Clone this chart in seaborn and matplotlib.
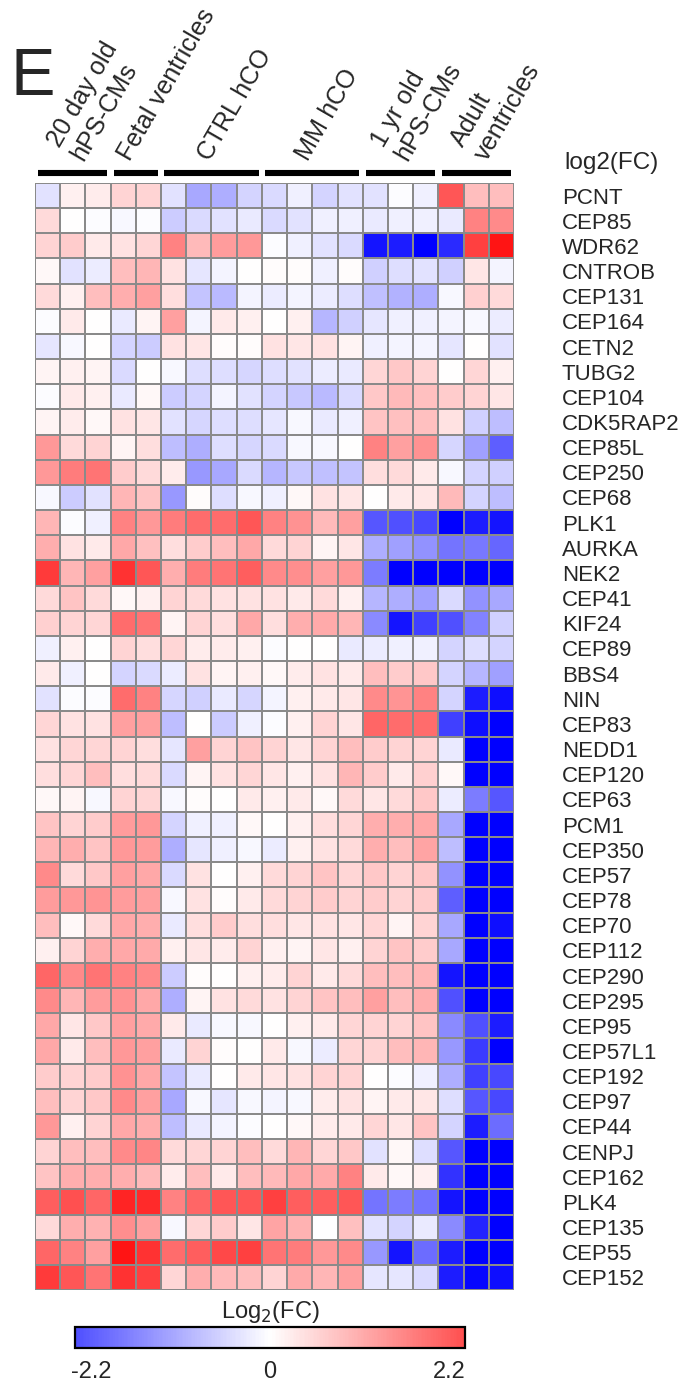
import numpy as np
import pandas as pd
import matplotlib
matplotlib.use("Agg")
import matplotlib.pyplot as plt
from matplotlib.colors import ListedColormap
import seaborn as sns

genes = ["PCNT", "CEP85", "WDR62", "CNTROB", "CEP131", "CEP164", "CETN2", "TUBG2",
         "CEP104", "CDK5RAP2", "CEP85L", "CEP250", "CEP68", "PLK1", "AURKA", "NEK2",
         "CEP41", "KIF24", "CEP89", "BBS4", "NIN", "CEP83", "NEDD1", "CEP120", "CEP63",
         "PCM1", "CEP350", "CEP57", "CEP78", "CEP70", "CEP112", "CEP290", "CEP295",
         "CEP95", "CEP57L1", "CEP192", "CEP97", "CEP44", "CENPJ", "CEP162", "PLK4",
         "CEP135", "CEP55", "CEP152"]

group_labels = ["20 day old\nhPS-CMs", "Fetal ventricles", "CTRL hCO", "MM hCO",
                "1 yr old\nhPS-CMs", "Adult\nventricles"]

# log2(FC) per group, one row per gene
day20 = [[-0.4, 0.2, 0.25], [0.5, 0.0, -0.05], [0.6, 0.7, 0.3], [0.1, -0.4, -0.25], [0.5, 0.2, 0.9],
         [-0.05, 0.3, 0.0], [-0.35, -0.1, 0.02], [0.15, 0.2, 0.15], [-0.05, 0.3, 0.2], [0.15, 0.25, 0.1],
         [1.4, 0.5, 0.6], [1.4, 1.8, 1.9], [-0.1, -0.7, -0.4], [1.0, -0.05, -0.2], [1.1, 0.4, 0.3],
         [2.7, 1.0, 1.3], [0.5, 0.8, 0.5], [0.65, 0.6, 0.55], [-0.2, 0.2, 0.02], [0.3, -0.2, 0.02],
         [-0.4, -0.05, -0.05], [0.55, 0.4, 0.4], [0.4, 0.55, 0.55], [0.45, 0.55, 0.9], [0.1, 0.15, -0.1],
         [0.8, 0.6, 0.7], [1.0, 1.1, 0.8], [1.6, 0.5, 0.75], [1.35, 1.4, 1.45], [0.9, 0.1, 0.5],
         [0.2, 0.6, 1.1], [2.1, 1.6, 1.9], [1.6, 1.0, 1.35], [1.2, 0.35, 0.75], [1.2, 0.3, 0.9],
         [0.7, 0.6, 0.7], [0.9, 0.6, 0.75], [1.4, 0.2, 0.6], [0.6, 0.9, 0.9], [0.8, 1.1, 1.1],
         [2.2, 2.4, 2.1], [0.5, 1.1, 1.05], [2.1, 1.7, 1.3], [2.7, 2.3, 1.9]]

fetal = [[0.6, 0.6], [-0.1, -0.05], [0.4, 0.55], [0.9, 1.0], [1.1, 1.3], [-0.3, 0.15], [-0.6, -0.7],
         [-0.5, 0.0], [-0.3, 0.1], [0.4, 0.35], [0.15, 0.45], [0.7, 0.5], [1.0, 0.8], [1.7, 1.4],
         [1.2, 0.85], [2.8, 2.3], [0.1, 0.2], [2.0, 1.9], [0.6, 0.45], [-0.6, -0.5], [2.0, 1.7],
         [1.3, 1.3], [0.6, 0.45], [0.45, 0.5], [0.6, 0.55], [1.35, 1.4], [1.4, 1.35], [1.3, 1.2],
         [1.35, 1.3], [1.2, 1.1], [1.2, 1.15], [1.7, 1.6], [1.5, 1.2], [1.3, 1.15], [1.4, 1.3],
         [1.5, 1.2], [1.6, 1.3], [1.2, 1.1], [1.6, 1.65], [1.1, 0.95], [3.0, 2.9], [1.55, 1.3],
         [3.2, 2.8], [2.8, 2.6]]

ctrl_hco = [[-0.4, -1.2, -1.1, -0.6], [-0.7, -0.5, -0.4, -0.3], [1.7, 0.95, 1.35, 1.4],
            [0.4, -0.35, -0.15, 0.0], [0.45, -0.8, -0.95, -0.15], [1.3, -0.15, 0.3, 0.2],
            [0.4, 0.35, 0.05, 0.05], [-0.1, -0.45, -0.45, -0.55], [-0.7, -0.6, -0.15, -0.4],
            [-0.4, -0.55, -0.45, -0.45], [-0.9, -1.1, -0.45, -0.55], [0.25, -1.4, -1.2, -0.5],
            [-1.4, 0.05, -0.45, -0.1], [1.8, 2.0, 2.0, 2.3], [0.45, 0.7, 0.9, 1.2],
            [1.1, 1.8, 1.9, 2.2], [0.6, 0.5, 0.4, 0.4], [0.15, 0.6, 0.45, 1.2],
            [0.55, 0.25, 0.25, 0.2], [-0.25, 0.4, 0.15, 0.2], [-0.55, -0.65, -0.3, -0.55],
            [-0.9, 0.0, -0.7, -0.2], [-0.35, 1.3, 0.6, 0.8], [-0.5, 0.15, 0.4, 0.55],
            [-0.1, 0.05, 0.0, 0.3], [-0.6, -0.2, -0.2, 0.1], [-1.1, -0.35, -0.2, -0.1],
            [-0.5, 0.4, 0.0, 0.2], [-0.1, 0.4, 0.05, 0.3], [-0.3, 0.45, 0.7, 0.45],
            [0.2, 0.35, 0.25, 0.6], [-0.7, 0.05, 0.02, 0.2], [-1.1, 0.15, 0.4, 0.5],
            [0.3, -0.3, -0.1, -0.1], [-0.3, 0.6, 0.05, 0.0], [-0.8, -0.3, 0.0, 0.3],
            [-1.2, -0.1, -0.35, -0.1], [-0.9, -0.3, -0.15, -0.05], [0.5, 0.55, 0.6, 0.9],
            [0.25, 0.9, 0.3, 0.9], [1.7, 2.1, 2.3, 2.3], [-0.1, 0.55, 0.7, 0.35],
            [2.0, 2.2, 2.5, 2.6], [0.55, 1.1, 0.95, 0.9]]

mm_hco = [[-0.5, -0.2, -0.6, -0.4], [-0.5, -0.4, -0.2, -0.2], [-0.05, -0.2, -0.4, -0.5],
          [0.05, 0.05, -0.2, 0.03], [-0.25, -0.15, -0.25, -0.45], [0.0, 0.2, -1.0, -0.65],
          [0.4, 0.35, 0.4, 0.15], [-0.45, -0.4, -0.25, -0.3], [-0.6, -0.75, -0.95, -0.5],
          [-0.35, -0.1, -0.3, -0.2], [-0.5, -0.1, -0.1, 0.0], [-1.0, -0.75, -0.85, -0.8],
          [-0.2, 0.1, 0.4, 0.35], [1.7, 1.5, 0.95, 1.3], [0.5, 0.6, 0.15, 0.35],
          [1.6, 1.55, 1.3, 1.4], [0.4, 0.3, 0.5, 0.2], [0.45, 1.1, 1.15, 1.0],
          [-0.05, 0.0, 0.0, -0.3], [0.1, 0.25, 0.4, 0.3], [-0.15, 0.2, 0.3, 0.35],
          [-0.05, 0.2, 0.6, 0.35], [0.6, 0.35, 0.6, 0.9], [0.35, 0.2, 0.4, 1.0],
          [0.2, 0.3, 0.1, 0.5], [0.0, 0.2, 0.45, 0.55], [-0.25, 0.2, 0.4, 0.5],
          [0.5, 0.6, 0.8, 0.55], [0.5, 0.6, 0.7, 0.6], [0.45, 0.35, 0.4, 0.35],
          [0.2, 0.15, 0.35, 0.2], [0.25, 0.6, 0.3, 0.5], [0.4, 0.6, 0.8, 0.9],
          [0.02, 0.2, 0.3, 0.55], [0.3, -0.1, -0.25, 0.55], [0.35, 0.4, 0.6, 0.6],
          [-0.15, -0.1, 0.25, 0.4], [0.0, 0.1, 0.25, 0.3], [0.5, 1.0, 0.55, 0.75],
          [0.95, 1.2, 1.15, 1.7], [2.6, 2.2, 2.2, 2.3], [1.25, 1.05, -0.02, 0.85],
          [1.9, 1.8, 1.4, 1.6], [0.6, 1.15, 1.0, 1.3]]

yr1 = [[-0.4, -0.05, -0.2], [-0.3, -0.2, -0.2], [-3.2, -3.1, -3.5], [-0.65, -0.45, -0.4],
       [-0.85, -1.05, -1.1], [-0.35, -0.2, -0.2], [-0.2, -0.15, -0.15], [0.55, 0.75, 0.6],
       [0.75, 0.95, 0.85], [0.8, 0.85, 0.85], [1.7, 1.3, 1.5], [0.45, 0.5, 0.3], [0.0, 0.3, 0.35],
       [-2.3, -2.4, -2.5], [-1.1, -1.3, -1.5], [-1.8, -3.5, -3.5], [-1.0, -1.1, -1.3],
       [-1.6, -3.2, -2.6], [-0.25, -0.2, -0.2], [0.9, 0.7, 0.75], [1.6, 1.45, 1.7],
       [2.1, 2.0, 2.0], [0.7, 0.6, 0.6], [0.7, 0.3, 0.65], [0.35, 0.5, 0.75], [1.1, 1.1, 1.2],
       [1.1, 0.9, 1.25], [0.75, 0.6, 0.75], [0.7, 0.6, 0.7], [0.55, 0.15, 0.6], [0.6, 0.8, 0.7],
       [0.9, 0.9, 1.0], [1.3, 0.9, 1.1], [0.6, 0.6, 0.8], [0.6, 0.9, 1.0], [0.0, -0.05, -0.2],
       [0.15, 0.3, 0.35], [0.55, 0.35, 0.8], [-0.4, 0.1, -0.45], [0.3, 0.1, 0.2],
       [-1.9, -1.8, -1.9], [-0.4, -0.6, -0.3], [-1.4, -3.2, -2.0], [-0.35, -0.35, -0.5]]

adult = [[2.3, 0.9, 0.9], [-0.3, 1.7, 1.6], [-2.9, 2.6, 3.2], [-0.65, 0.35, -0.15], [-0.1, 0.65, 0.5],
         [-0.15, -0.1, -0.25], [-0.35, 0.0, -0.4], [0.0, 0.55, 0.2], [0.7, 0.6, 0.35], [0.4, -0.65, -0.9],
         [-0.55, -1.3, -2.2], [-0.1, -0.6, -0.65], [0.95, -0.6, -0.9], [-3.5, -3.1, -3.2],
         [-1.9, -1.85, -2.1], [-3.5, -3.5, -3.5], [-0.5, -1.5, -1.2], [-2.4, -1.7, -0.65],
         [-0.6, -0.45, -0.6], [-0.6, -1.0, -1.3], [-0.6, -3.1, -3.3], [-2.6, -3.3, -3.5],
         [-0.3, -3.5, -3.5], [0.1, -3.5, -3.5], [-0.25, -1.8, -2.3], [-1.2, -3.5, -3.5],
         [-0.9, -3.5, -3.5], [-1.5, -3.5, -3.5], [-2.2, -3.5, -3.5], [-1.2, -3.5, -3.3],
         [-1.2, -3.5, -3.5], [-3.2, -3.5, -3.5], [-2.4, -3.5, -3.5], [-1.6, -2.4, -3.1],
         [-1.4, -2.7, -3.5], [-1.1, -2.6, -2.5], [-0.45, -2.3, -2.5], [-0.6, -3.1, -2.0],
         [-2.3, -3.5, -3.5], [-2.8, -3.5, -3.5], [-3.2, -3.5, -3.5], [-1.6, -3.0, -3.5],
         [-3.1, -3.5, -3.5], [-3.1, -3.4, -3.3]]

cbar_ticks = [-2.2, 0, 2.2]

blocks = [day20, fetal, ctrl_hco, mm_hco, yr1, adult]
sizes = [len(b[0]) for b in blocks]
mat = np.hstack([np.array(b) for b in blocks])
df = pd.DataFrame(mat, index=genes)

sns.set_style("white")
plt.rcParams["font.family"] = ["Liberation Sans", "DejaVu Sans"]

fig = plt.figure(figsize=(6.85, 13.93), dpi=100)
ax = fig.add_axes([35 / 685, 1 - 1290 / 1393, 479 / 685, 1107 / 1393])

vmax = 3.5
sns.heatmap(df, ax=ax, cmap="bwr", vmin=-vmax, vmax=vmax, cbar=False,
            linewidths=1.3, linecolor="#8a8a8a", xticklabels=False, yticklabels=True)

ax.yaxis.tick_right()
ax.set_yticks(np.arange(len(genes)) + 0.5)
ax.set_yticklabels(genes, rotation=0, ha="left", fontsize=16)
ax.tick_params(axis="y", length=0, pad=34.5)
ax.set_ylabel("")

# group bars and rotated labels above them
label_x = [2.1, 3.95, 7.1, 11.0, 14.95, 18.1]
start = 0
for lab, n, lx in zip(group_labels, sizes, label_x):
    ax.plot([start + 0.13, start + n - 0.13], [-0.4, -0.4], color="black",
            lw=4.4, solid_capstyle="butt", clip_on=False)
    ax.text(lx, -0.72, lab, rotation=60, rotation_mode="anchor",
            ha="left", va="bottom", fontsize=18.2, clip_on=False)
    start += n

ax.text(19 + 50 / 25.2, -0.8, "log2(FC)", ha="left", va="center", fontsize=17.5, clip_on=False)

fig.text(11 / 685, 1 - 95 / 1393, "E", fontsize=48, ha="left", va="baseline")

# colorbar showing only the +/-2.4 part of the scale
lo, hi = -2.4, 2.4
cmap_part = ListedColormap(plt.get_cmap("bwr")(np.linspace(0.5 + lo / (2 * vmax), 0.5 + hi / (2 * vmax), 256)))
cax = fig.add_axes([75 / 685, 1 - 1348 / 1393, 390 / 685, 21 / 1393])
sm = plt.cm.ScalarMappable(cmap=cmap_part, norm=plt.Normalize(lo, hi))
cb = fig.colorbar(sm, cax=cax, orientation="horizontal", ticks=cbar_ticks)
cb.ax.set_xticklabels(["-2.2", "0", "2.2"], fontsize=17)
cb.ax.tick_params(length=0, pad=9)
cb.outline.set_linewidth(1.6)
cb.outline.set_edgecolor("black")
fig.text(270 / 685, 1 - 1312 / 1393, "Log$_2$(FC)", ha="center", va="center", fontsize=17)

fig.savefig("out.png", dpi=100)
